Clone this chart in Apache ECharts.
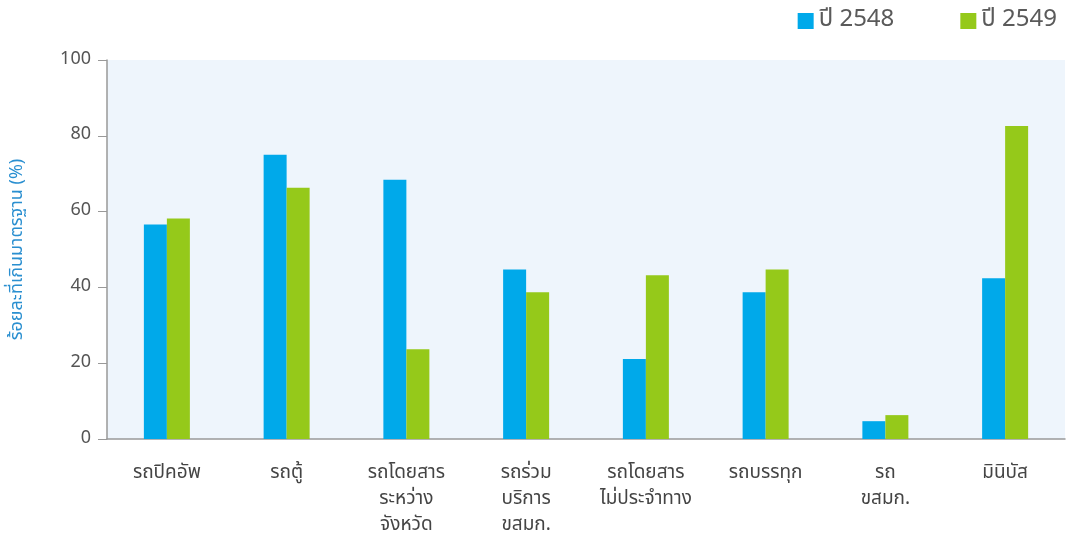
<!DOCTYPE html>
<html>
<head>
<meta charset="utf-8">
<script src="https://cdn.jsdelivr.net/npm/echarts@6/dist/echarts.min.js"></script>
<style>
  html, body { margin: 0; padding: 0; background: #fff; }
  #chart { width: 1067px; height: 539px; }
</style>
</head>
<body>
<div id="chart"></div>
<script>
/*
 * ข้อมูลกราฟ
 */
var categories = ['รถปิคอัพ', 'รถตู้', 'รถโดยสาร\nระหว่าง\nจังหวัด', 'รถร่วม\nบริการ\nขสมก.', 'รถโดยสาร\nไม่ประจำทาง', 'รถบรรทุก', 'รถ\nขสมก.', 'มินิบัส'];
var seriesNames = ['ปี 2548', 'ปี 2549'];
var values2548 = [56.6, 75.0, 68.4, 44.7, 21.1, 38.7, 4.7, 42.4];
var values2549 = [58.2, 66.3, 23.7, 38.7, 43.2, 44.7, 6.3, 82.6];
var yTicks = [0, 20, 40, 60, 80, 100];

var FONT = '"Noto Sans Thai", "Noto Sans", "DejaVu Sans", sans-serif';

var chart = echarts.init(document.getElementById('chart'));
var option = {
    animation: false,
    textStyle: { fontFamily: FONT },
    legend: {
        data: seriesNames,
        top: 4,
        right: 5,
        itemWidth: 16,
        itemHeight: 16,
        itemGap: 66,
        icon: 'rect',
        textStyle: { fontSize: 24, color: '#5a5a5a', fontFamily: FONT }
    },
    grid: {
        left: 107,
        right: 2,
        top: 60,
        bottom: 99,
        show: true,
        backgroundColor: '#eef5fc',
        borderWidth: 0
    },
    xAxis: {
        type: 'category',
        data: categories,
        axisLine: { lineStyle: { color: '#999', width: 1.5 } },
        axisTick: { alignWithLabel: true, length: 9, lineStyle: { color: '#999' } },
        axisLabel: {
            color: '#444',
            fontSize: 19,
            lineHeight: 26,
            margin: 22,
            interval: 0,
            fontFamily: FONT
        }
    },
    yAxis: {
        type: 'value',
        min: yTicks[0],
        max: yTicks[yTicks.length - 1],
        interval: 20,
        name: 'ร้อยละที่เกินมาตรฐาน (%)',
        nameLocation: 'middle',
        nameGap: 80,
        nameTextStyle: { color: '#2a8fd0', fontSize: 18, fontFamily: FONT },
        axisLine: { show: true, lineStyle: { color: '#999', width: 1.5 } },
        axisTick: { show: true, length: 9, lineStyle: { color: '#999' } },
        splitLine: { show: false },
        axisLabel: { color: '#555', fontSize: 18, margin: 16, fontFamily: FONT }
    },
    series: [
        {
            name: seriesNames[0],
            type: 'bar',
            data: values2548,
            barWidth: 23,
            barGap: '0%',
            itemStyle: { color: '#00a9ea' }
        },
        {
            name: seriesNames[1],
            type: 'bar',
            data: values2549,
            barWidth: 23,
            itemStyle: { color: '#95c91a' }
        }
    ]
};
chart.setOption(option);
</script>
</body>
</html>
